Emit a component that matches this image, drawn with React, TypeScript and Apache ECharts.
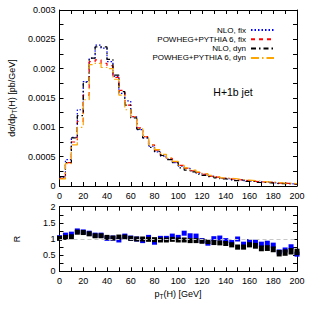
import React, { useEffect, useRef } from "react";
import * as echarts from "echarts";

// bin edges / ratio points (GeV)
const pt = [0, 5, 10, 15, 20, 25, 30, 35, 40, 45, 50, 55, 60, 65, 70, 75, 80, 85, 90, 95, 100,
  105, 110, 115, 120, 125, 130, 135, 140, 145, 150, 155, 160, 165, 170, 175, 180, 185, 190, 195, 200];

// dσ/dpT per 5 GeV bin [pb/GeV]
const nloFix = [0.00015, 0.00045, 0.00083, 0.0013, 0.00178, 0.00218, 0.0024, 0.00235, 0.00212, 0.00187,
  0.00158, 0.00145, 0.00118, 0.00096, 0.00082, 0.00068, 0.00058, 0.00051, 0.00046, 0.0004,
  0.00034, 0.0003, 0.00026, 0.00022, 0.0002, 0.00017, 0.00015, 0.00013, 0.00012, 0.0001,
  0.00011, 0.00009, 0.00008, 0.00007, 0.00007, 0.00006, 0.00005, 0.00005, 0.00004, 0.00003];
const powFix = [0.00013, 0.0004, 0.00075, 0.0011, 0.00155, 0.00212, 0.00215, 0.00209, 0.00205, 0.00185,
  0.00163, 0.00138, 0.00118, 0.00099, 0.00084, 0.0007, 0.00061, 0.00053, 0.00047, 0.00041,
  0.00035, 0.0003, 0.00026, 0.00023, 0.0002, 0.00017, 0.00015, 0.00013, 0.00012, 0.00011,
  0.0001, 0.00009, 0.00008, 0.00007, 0.00007, 0.00006, 0.00005, 0.00005, 0.00004, 0.00003];
const nloDyn = [0.00016, 0.0004, 0.00082, 0.0012, 0.00177, 0.00218, 0.00237, 0.00237, 0.00216, 0.00189,
  0.00161, 0.00138, 0.00116, 0.00097, 0.00082, 0.00066, 0.00059, 0.00052, 0.00045, 0.0004,
  0.00031, 0.00027, 0.00024, 0.0002, 0.00018, 0.00016, 0.00014, 0.00012, 0.00011, 0.00009,
  0.0001, 0.00008, 0.00008, 0.00006, 0.00006, 0.00005, 0.00004, 0.00004, 0.00004, 0.00003];
const powDyn = [0.00012, 0.00038, 0.0007, 0.001, 0.00147, 0.00207, 0.00209, 0.00202, 0.002, 0.00182,
  0.00155, 0.0013, 0.00118, 0.00098, 0.00084, 0.0007, 0.00062, 0.00054, 0.00048, 0.00042,
  0.00035, 0.00031, 0.00027, 0.00024, 0.00021, 0.00018, 0.00016, 0.00014, 0.00013, 0.00012,
  0.00011, 0.0001, 0.00009, 0.00008, 0.00007, 0.00007, 0.00006, 0.00005, 0.00005, 0.00004];

// ratio panel
const ratioFix = [1.04, 1.12, 1.15, 1.25, 1.22, 1.18, 1.12, 1.12, 1.02, 1.03, 0.97, 1.09, 1.03, 1.0, 0.95,
  1.05, 0.9, 1.02, 1.02, 1.09, 1.05, 1.18, 1.1, 1.09, 0.95, 0.87, 1.01, 1.03, 0.95, 0.89, 1.0, 0.84,
  0.92, 0.9, 0.84, 0.87, 0.81, 0.6, 0.66, 0.76, 0.53];
const errFix = [0.03, 0.03, 0.03, 0.03, 0.03, 0.03, 0.03, 0.03, 0.03, 0.03, 0.03, 0.03, 0.04, 0.04, 0.04,
  0.04, 0.04, 0.04, 0.04, 0.04, 0.04, 0.04, 0.04, 0.04, 0.05, 0.05, 0.05, 0.05, 0.05, 0.05, 0.05, 0.05,
  0.06, 0.06, 0.06, 0.06, 0.06, 0.06, 0.06, 0.06, 0.06];
const ratioDyn = [1.02, 1.05, 1.07, 1.21, 1.2, 1.16, 1.1, 1.1, 1.05, 1.03, 1.06, 1.06, 1.02, 1.0, 1.0,
  0.99, 0.98, 0.97, 0.97, 0.99, 0.97, 0.97, 0.95, 0.95, 0.93, 0.92, 0.89, 0.88, 0.86, 0.82, 0.75, 0.75,
  0.82, 0.79, 0.71, 0.72, 0.68, 0.56, 0.58, 0.62, 0.6];
const errDyn = [0.03, 0.03, 0.03, 0.03, 0.03, 0.03, 0.03, 0.03, 0.04, 0.04, 0.04, 0.04, 0.04, 0.04, 0.05,
  0.05, 0.05, 0.05, 0.05, 0.05, 0.06, 0.06, 0.06, 0.06, 0.06, 0.07, 0.07, 0.07, 0.07, 0.08, 0.08, 0.08,
  0.08, 0.09, 0.09, 0.09, 0.09, 0.1, 0.1, 0.1, 0.1];

const FONT = "Liberation Sans";

function histData(vals: number[]) {
  const d = vals.map((v, i) => [pt[i], v]);
  d.push([pt[vals.length], vals[vals.length - 1]]);
  return d;
}

function errBox(color: string) {
  return (params: any, api: any) => {
    const x = api.value(0);
    const y = api.value(1);
    const e = api.value(2);
    const top = api.coord([x, y + e]);
    const bot = api.coord([x, y - e]);
    const h = Math.max(bot[1] - top[1], 5);
    const cy = (top[1] + bot[1]) / 2;
    return {
      type: "rect",
      shape: { x: top[0] - 2.5, y: cy - h / 2, width: 5, height: h },
      style: { fill: color },
    };
  };
}

function frameAxes(gridIndex: number, min: number, max: number, interval: number, isX: boolean, labels: boolean, pos: string, fmt?: (v: number) => string) {
  return {
    type: "value",
    gridIndex,
    min,
    max,
    interval,
    position: pos,
    axisLine: { show: true, onZero: false, lineStyle: { color: "#000", width: 1 } },
    axisTick: { show: true, inside: true, length: 4, lineStyle: { color: "#000" } },
    minorTick: { show: true, splitNumber: 2, length: 4, lineStyle: { color: "#000" } },
    splitLine: { show: false },
    minorSplitLine: { show: false },
    axisLabel: {
      show: labels,
      fontSize: 9,
      fontFamily: FONT,
      color: "#000",
      margin: isX ? 5 : 4,
      formatter: fmt,
      showMinLabel: true,
      showMaxLabel: true,
    },
  };
}

export default function App() {
  const ref = useRef<HTMLDivElement>(null);
  useEffect(() => {
    if (!ref.current) return;
    const chart = echarts.init(ref.current, null, { renderer: "svg" });
    const top = 10, h1 = 176, top2 = 206.7, h2 = 64.6, left = 59.5, right = 17;
    const lineSeries = (name: string, vals: number[], color: string, type: any, width: number) => ({
      name,
      type: "line",
      xAxisIndex: 0,
      yAxisIndex: 0,
      step: "end",
      symbol: "none",
      showSymbol: false,
      data: histData(vals),
      lineStyle: { color, type, width },
      itemStyle: { color },
    });
    chart.setOption({
      animation: false,
      grid: [
        { left, right, top, height: h1 },
        { left, right, top: top2, height: h2 },
      ],
      xAxis: [
        frameAxes(0, 0, 200, 20, true, true, "bottom"),
        frameAxes(0, 0, 200, 20, true, false, "top"),
        frameAxes(1, 0, 200, 20, true, true, "bottom"),
        frameAxes(1, 0, 200, 20, true, false, "top"),
      ],
      yAxis: [
        frameAxes(0, 0, 0.003, 0.0005, false, true, "left", (v: number) => (v === 0 ? "0" : String(+v.toFixed(4)))),
        frameAxes(0, 0, 0.003, 0.0005, false, false, "right"),
        frameAxes(1, 0, 2, 0.5, false, true, "left", (v: number) => String(v)),
        frameAxes(1, 0, 2, 0.5, false, false, "right"),
      ],
      legend: {
        orient: "vertical",
        right: 34,
        top: 21,
        align: "right",
        itemWidth: 23,
        itemHeight: 8,
        itemGap: 1.3,
        itemStyle: { opacity: 0 },
        textStyle: { fontSize: 8, fontFamily: FONT, color: "#000" },
        data: ["NLO, fix", "POWHEG+PYTHIA 6, fix", "NLO, dyn", "POWHEG+PYTHIA 6, dyn"],
      },
      series: [
        lineSeries("NLO, fix", nloFix, "#0000ff", [1.5, 2], 1.2),
        lineSeries("POWHEG+PYTHIA 6, fix", powFix, "#ff0000", [4, 4], 1.2),
        lineSeries("NLO, dyn", nloDyn, "#000000", [5, 3, 1.5, 3], 1.2),
        lineSeries("POWHEG+PYTHIA 6, dyn", powDyn, "#ffa500", [8, 3, 1.5, 3], 1.2),
        {
          type: "custom",
          xAxisIndex: 2,
          yAxisIndex: 2,
          renderItem: errBox("#0000ff"),
          encode: { x: 0, y: 1 },
          data: pt.map((x, i) => [x, ratioFix[i], errFix[i]]),
          markLine: {
            silent: true,
            symbol: "none",
            label: { show: false },
            lineStyle: { color: "#c8c8c8", type: [4, 3], width: 1.2 },
            data: [{ yAxis: 1 }],
          },
          z: 2,
        },
        {
          type: "custom",
          xAxisIndex: 2,
          yAxisIndex: 2,
          renderItem: errBox("#000000"),
          encode: { x: 0, y: 1 },
          data: pt.map((x, i) => [x, ratioDyn[i], errDyn[i]]),
          z: 3,
        },
      ],
      graphic: [
        {
          type: "text",
          x: 233,
          y: 92,
          style: { text: "H+1b jet", fontSize: 10.5, fontFamily: FONT, fill: "#000", align: "center", verticalAlign: "middle" },
        },
        {
          type: "text",
          x: 12,
          y: 98,
          rotation: Math.PI / 2,
          style: {
            text: "dσ/dp{s|T}(H) [pb/GeV]",
            fontSize: 9,
            fontFamily: FONT,
            fill: "#000",
            align: "center",
            verticalAlign: "middle",
            rich: { s: { fontSize: 6.5, fontFamily: FONT, fill: "#000", padding: [5, 0, 0, 0] } },
          },
        },
        {
          type: "text",
          x: 17,
          y: 239,
          rotation: Math.PI / 2,
          style: { text: "R", fontSize: 9, fontFamily: FONT, fill: "#000", align: "center", verticalAlign: "middle" },
        },
        {
          type: "text",
          x: 178,
          y: 294,
          style: {
            text: "p{s|T}(H) [GeV]",
            fontSize: 9,
            fontFamily: FONT,
            fill: "#000",
            align: "center",
            verticalAlign: "middle",
            rich: { s: { fontSize: 6.5, fontFamily: FONT, fill: "#000", padding: [5, 0, 0, 0] } },
          },
        },
      ],
    });
    return () => chart.dispose();
  }, []);
  return <div ref={ref} style={{ position: "fixed", left: 0, top: 0, width: 314, height: 314, background: "#fff" }} />;
}
